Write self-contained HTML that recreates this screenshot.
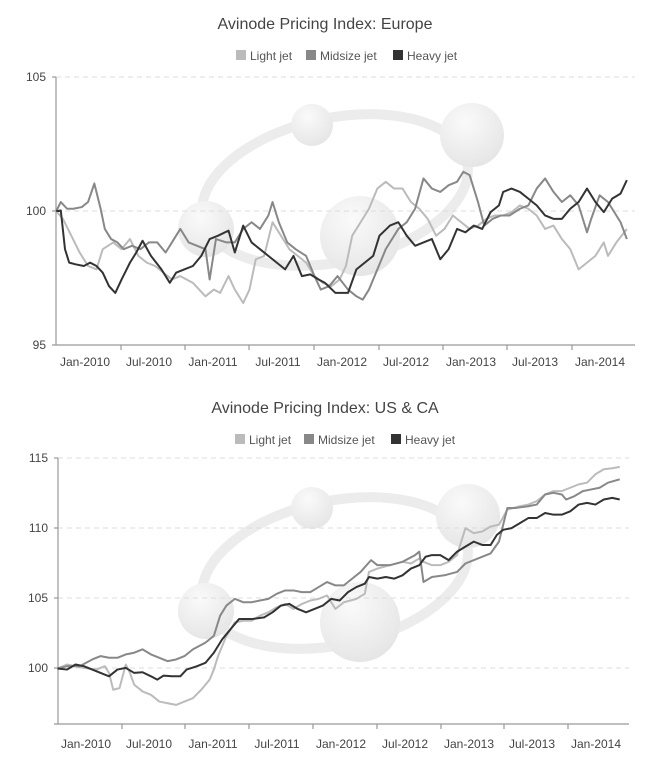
<!DOCTYPE html>
<html><head><meta charset="utf-8"><style>
body{margin:0;background:#fff;}
svg{display:block;font-family:"Liberation Sans",sans-serif;}
</style></head><body>
<svg width="650" height="760" viewBox="0 0 650 760" xmlns="http://www.w3.org/2000/svg">
<defs>
<radialGradient id="g" cx="0.4" cy="0.3" r="0.7"><stop offset="0" stop-color="#fafafa"/><stop offset="1" stop-color="#e6e6e6"/></radialGradient>
</defs>
<!-- TOP CHART -->
<text x="325" y="29" text-anchor="middle" font-size="16" fill="#444">Avinode Pricing Index: Europe</text>
<g font-size="12" fill="#555">
<rect x="236" y="50" width="10" height="10" fill="#bbb"/><text x="250" y="60">Light jet</text>
<rect x="306" y="50" width="10" height="10" fill="#888"/><text x="320" y="60">Midsize jet</text>
<rect x="393" y="50" width="10" height="10" fill="#333"/><text x="407" y="60">Heavy jet</text>
</g>
<g fill="url(#g)">
<ellipse cx="335" cy="190" rx="135" ry="72" fill="none" stroke="#ececec" stroke-width="10" transform="rotate(-12 335 190)"/>
<circle cx="312" cy="125" r="21"/><circle cx="472" cy="135" r="32"/><circle cx="206" cy="229" r="28"/><circle cx="360" cy="236" r="40"/>
</g>
<g stroke="#ddd" stroke-dasharray="5,4" stroke-width="1"><line x1="56" y1="77" x2="635" y2="77"/><line x1="56" y1="211" x2="635" y2="211"/></g>
<g stroke="#999" stroke-width="1.2"><line x1="56" y1="77" x2="56" y2="345"/><line x1="52" y1="345" x2="635" y2="345"/>
<line x1="52" y1="77" x2="56" y2="77"/><line x1="52" y1="211" x2="56" y2="211"/>
<line x1="121" y1="345" x2="121" y2="350"/><line x1="185" y1="345" x2="185" y2="350"/><line x1="249" y1="345" x2="249" y2="350"/><line x1="314" y1="345" x2="314" y2="350"/><line x1="379" y1="345" x2="379" y2="350"/><line x1="443" y1="345" x2="443" y2="350"/><line x1="507" y1="345" x2="507" y2="350"/><line x1="572" y1="345" x2="572" y2="350"/></g>
<g font-size="12" fill="#444" text-anchor="end"><text x="46" y="81">105</text><text x="46" y="215">100</text><text x="46" y="349">95</text></g>
<g font-size="12" fill="#444" text-anchor="middle">
<text x="85" y="366">Jan-2010</text><text x="149" y="366">Jul-2010</text><text x="213" y="366">Jan-2011</text><text x="278" y="366">Jul-2011</text><text x="342" y="366">Jan-2012</text><text x="406" y="366">Jul-2012</text><text x="471" y="366">Jan-2013</text><text x="535" y="366">Jul-2013</text><text x="600" y="366">Jan-2014</text></g>
<g transform="scale(0.4193 0.3367)" fill="none" stroke-width="2" stroke-linejoin="round">
<polyline vector-effect="non-scaling-stroke" stroke="#bbb" points="134,627 150,650 170,700 190,750 210,790 230,800 245,740 270,720 290,740 310,710 330,760 350,780 370,790 390,810 410,830 430,820 460,840 490,880 510,860 525,870 545,820 560,860 580,900 595,860 610,770 630,760 650,660 670,700 690,740 710,760 730,780 750,820 770,840 790,850 810,830 825,790 840,700 860,660 880,620 900,560 920,540 940,560 960,560 980,600 1000,620 1020,650 1040,700 1060,680 1080,640 1100,660 1120,680 1140,670 1160,650 1180,640 1200,640 1220,630 1240,610 1260,620 1280,640 1300,680 1320,670 1340,710 1360,740 1380,800 1400,780 1420,760 1440,720 1450,760 1470,720 1495,680"/>
<polyline vector-effect="non-scaling-stroke" stroke="#888" points="134,627 145,600 160,620 175,620 195,615 210,600 225,545 240,620 250,680 265,710 280,720 295,740 315,730 335,740 355,720 375,720 395,750 410,720 430,680 450,720 470,730 490,740 500,830 515,710 540,720 560,720 580,680 600,660 620,680 640,640 650,600 665,660 685,720 705,740 730,760 750,820 765,860 785,850 805,820 830,860 850,880 865,890 880,860 900,800 920,740 950,680 970,660 990,620 1010,530 1030,560 1050,570 1070,550 1090,540 1105,510 1120,520 1140,600 1155,670 1175,650 1195,640 1215,640 1240,620 1260,610 1280,560 1300,530 1320,570 1340,600 1360,580 1380,610 1400,690 1410,650 1430,580 1450,600 1470,640 1480,660 1495,710"/>
<polyline vector-effect="non-scaling-stroke" stroke="#333" points="134,627 145,625 155,740 165,780 180,785 200,790 215,780 230,790 245,810 260,850 275,870 290,830 310,780 325,750 340,715 360,760 385,800 405,840 420,810 440,800 460,790 480,760 500,710 520,700 545,685 560,750 580,670 600,720 620,740 640,760 660,780 680,800 700,760 720,820 740,815 760,830 775,840 800,870 830,870 850,800 870,780 890,760 905,700 930,670 950,660 970,700 990,730 1010,720 1030,710 1050,770 1070,740 1090,680 1110,690 1130,670 1150,680 1170,630 1190,610 1200,570 1220,560 1240,570 1260,590 1280,610 1300,640 1320,650 1340,650 1360,620 1380,600 1400,560 1420,600 1440,630 1460,590 1480,575 1495,535"/>
</g>
<!-- BOTTOM CHART -->
<text x="325" y="413" text-anchor="middle" font-size="16" fill="#444">Avinode Pricing Index: US &amp; CA</text>
<g font-size="12" fill="#555">
<rect x="235" y="434" width="10" height="10" fill="#bbb"/><text x="249" y="444">Light jet</text>
<rect x="304" y="434" width="10" height="10" fill="#888"/><text x="318" y="444">Midsize jet</text>
<rect x="391" y="434" width="10" height="10" fill="#333"/><text x="405" y="444">Heavy jet</text>
</g>
<g fill="url(#g)">
<ellipse cx="335" cy="573" rx="135" ry="72" fill="none" stroke="#ececec" stroke-width="10" transform="rotate(-12 335 573)"/>
<circle cx="312" cy="508" r="21"/><circle cx="468" cy="516" r="32"/><circle cx="206" cy="611" r="28"/><circle cx="360" cy="622" r="40"/>
</g>
<g stroke="#ddd" stroke-dasharray="5,4" stroke-width="1"><line x1="58" y1="458" x2="629" y2="458"/><line x1="58" y1="528" x2="629" y2="528"/><line x1="58" y1="598" x2="629" y2="598"/><line x1="58" y1="668" x2="629" y2="668"/></g>
<g stroke="#999" stroke-width="1.2"><line x1="58" y1="458" x2="58" y2="724"/><line x1="54" y1="724" x2="629" y2="724"/>
<line x1="54" y1="458" x2="58" y2="458"/><line x1="54" y1="528" x2="58" y2="528"/><line x1="54" y1="598" x2="58" y2="598"/><line x1="54" y1="668" x2="58" y2="668"/>
<line x1="122" y1="724" x2="122" y2="729"/><line x1="185" y1="724" x2="185" y2="729"/><line x1="249" y1="724" x2="249" y2="729"/><line x1="313" y1="724" x2="313" y2="729"/><line x1="377" y1="724" x2="377" y2="729"/><line x1="441" y1="724" x2="441" y2="729"/><line x1="504" y1="724" x2="504" y2="729"/><line x1="568" y1="724" x2="568" y2="729"/></g>
<g font-size="12" fill="#444" text-anchor="end"><text x="48" y="462">115</text><text x="48" y="532">110</text><text x="48" y="602">105</text><text x="48" y="672">100</text></g>
<g font-size="12" fill="#444" text-anchor="middle">
<text x="86" y="748">Jan-2010</text><text x="149" y="748">Jul-2010</text><text x="213" y="748">Jan-2011</text><text x="277" y="748">Jul-2011</text><text x="341" y="748">Jan-2012</text><text x="405" y="748">Jul-2012</text><text x="469" y="748">Jan-2013</text><text x="532" y="748">Jul-2013</text><text x="596" y="748">Jan-2014</text></g>
<g transform="translate(0 380) scale(0.4193 0.3367)" fill="none" stroke-width="2" stroke-linejoin="round">
<polyline vector-effect="non-scaling-stroke" stroke="#bbb" points="137,857 160,845 180,850 200,855 230,860 250,850 260,870 270,920 285,915 300,845 310,870 320,905 340,925 360,935 380,955 400,960 420,965 440,955 460,945 480,920 500,890 510,860 520,820 540,760 560,720 580,715 600,715 620,700 640,690 660,675 680,665 700,680 720,665 740,655 760,650 780,640 800,680 820,660 850,650 870,635 880,570 900,560 930,550 960,540 980,545 1000,530 1010,540 1030,550 1050,550 1070,540 1090,520 1110,440 1130,455 1150,450 1170,435 1190,430 1210,385 1240,375 1260,370 1280,360 1300,340 1320,330 1340,330 1360,320 1380,310 1400,305 1420,280 1440,265 1460,262 1478,258"/>
<polyline vector-effect="non-scaling-stroke" stroke="#888" points="137,857 160,850 190,850 220,830 240,820 260,825 280,825 300,815 320,810 340,800 360,815 380,825 400,835 420,830 440,820 460,800 490,780 510,760 525,700 540,670 560,650 580,660 600,660 620,655 640,650 660,635 680,625 700,625 720,630 740,630 760,615 780,600 800,610 820,610 840,590 860,570 885,535 900,550 930,550 960,540 990,520 1000,510 1010,600 1030,585 1060,580 1090,570 1110,545 1140,530 1170,515 1190,480 1210,380 1230,380 1260,375 1280,370 1300,340 1320,335 1340,340 1350,355 1370,345 1390,330 1410,325 1430,320 1450,305 1478,295"/>
<polyline vector-effect="non-scaling-stroke" stroke="#333" points="137,857 160,860 180,845 200,850 220,860 240,870 260,880 280,860 300,855 320,870 340,868 360,880 375,890 390,878 410,880 430,880 445,860 470,850 490,840 510,810 530,770 550,740 570,710 600,710 630,705 650,690 670,670 690,665 710,680 730,690 750,680 770,670 790,650 810,655 830,630 850,615 870,605 880,585 900,590 920,585 940,590 960,580 980,560 1000,550 1015,525 1030,520 1050,520 1070,535 1090,510 1110,495 1130,480 1150,490 1170,490 1185,460 1200,445 1220,440 1240,425 1260,410 1280,410 1300,395 1320,400 1340,400 1360,390 1380,370 1400,365 1420,370 1440,355 1460,350 1478,355"/>
</g>
</svg>
</body></html>
